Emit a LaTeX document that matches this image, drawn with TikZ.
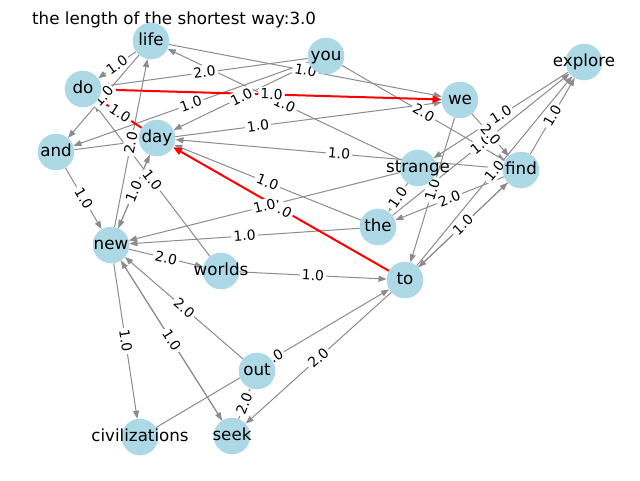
\documentclass[tikz,border=0pt]{standalone}
\usepackage{fontspec}
\setmainfont{DejaVu Sans}
\usetikzlibrary{arrows.meta}
\pgfdeclarelayer{bglayer}
\pgfdeclarelayer{edgelayer}
\pgfdeclarelayer{hotlayer}
\pgfdeclarelayer{labellayer}
\pgfdeclarelayer{textlayer}
\pgfsetlayers{bglayer,edgelayer,hotlayer,labellayer,main,textlayer}
\definecolor{nodeblue}{RGB}{173,216,230}
\definecolor{edgegray}{RGB}{140,140,140}
\tikzset{
  vtx/.style={circle, fill=nodeblue, minimum size=36.6pt, inner sep=0pt},
  vtxtext/.style={font=\fontsize{16.7}{18}\selectfont, inner sep=0pt, text height=12.2pt, text depth=3.9pt},
  conn/.style={draw=edgegray, line width=1pt, -{Triangle[length=8pt,width=6pt]}},
  hot/.style={draw=red, line width=2pt, -{Triangle[length=9pt,width=7pt]}},
  wlabel/.style={midway, sloped, fill=white, rounded corners=3pt, inner sep=2.2pt, font=\fontsize{13.9}{15}\selectfont, text height=10pt, text depth=0.5pt},
}
\newcommand{\gedge}[3]{%
  \begin{pgfonlayer}{edgelayer}\draw[conn] (#1) -- (#2);\end{pgfonlayer}%
  \begin{pgfonlayer}{labellayer}\path (#1) -- (#2) node[wlabel] (l-#1-#2) {#3};\end{pgfonlayer}%
}
\newcommand{\hedge}[3]{%
  \begin{pgfonlayer}{hotlayer}\draw[hot] (#1) -- (#2);\end{pgfonlayer}%
  \begin{pgfonlayer}{labellayer}\path (#1) -- (#2) node[wlabel] (l-#1-#2) {#3};\end{pgfonlayer}%
}
\begin{document}
\begin{tikzpicture}[x=1pt,y=-1pt]
\begin{pgfonlayer}{bglayer}
\fill[white] (0,0) rectangle (640,480);
\end{pgfonlayer}
\useasboundingbox (0,0) rectangle (640,480);
\node[anchor=base west, font=\fontsize{16.7}{18}\selectfont, inner sep=0pt] (title) at (32,24) {the length of the shortest way:3.0};
% nodes
\node[vtx] (vlife) at (151,41) {};
\node[vtx] (vyou) at (326,56) {};
\node[vtx] (vexplore) at (584,62) {};
\node[vtx] (vdo) at (83,89) {};
\node[vtx] (vwe) at (460,100) {};
\node[vtx] (vday) at (157,138) {};
\node[vtx] (vand) at (56,152) {};
\node[vtx] (vstrange) at (418,168) {};
\node[vtx] (vfind) at (521,170) {};
\node[vtx] (vthe) at (378,227) {};
\node[vtx] (vnew) at (111,245) {};
\node[vtx] (vworlds) at (221,271) {};
\node[vtx] (vto) at (405,280) {};
\node[vtx] (vout) at (257,371) {};
\node[vtx] (vciv) at (140,437) {};
\node[vtx] (vseek) at (232,436) {};
\begin{pgfonlayer}{textlayer}
\node[vtxtext] (t-life) at (vlife) {life};
\node[vtxtext] (t-you) at (vyou) {you};
\node[vtxtext] (t-explore) at (vexplore) {explore};
\node[vtxtext] (t-do) at (vdo) {do};
\node[vtxtext] (t-we) at (vwe) {we};
\node[vtxtext] (t-day) at (vday) {day};
\node[vtxtext] (t-and) at (vand) {and};
\node[vtxtext] (t-strange) at (vstrange) {strange};
\node[vtxtext] (t-find) at (vfind) {find};
\node[vtxtext] (t-the) at (vthe) {the};
\node[vtxtext] (t-new) at (vnew) {new};
\node[vtxtext] (t-worlds) at (vworlds) {worlds};
\node[vtxtext] (t-to) at (vto) {to};
\node[vtxtext] (t-out) at (vout) {out};
\node[vtxtext] (t-civ) at (vciv) {civilizations};
\node[vtxtext] (t-seek) at (vseek) {seek};
\end{pgfonlayer}
% edges
\gedge{vlife}{vdo}{1.0}
\gedge{vyou}{vdo}{2.0}
\gedge{vstrange}{vlife}{1.0}
\hedge{vdo}{vwe}{1.0}
\gedge{vlife}{vwe}{1.0}
\gedge{vlife}{vand}{1.0}
\gedge{vyou}{vand}{1.0}
\gedge{vyou}{vday}{1.0}
\gedge{vand}{vwe}{1.0}
\gedge{vfind}{vday}{1.0}
\gedge{vthe}{vday}{1.0}
\hedge{vto}{vday}{1.0}
\gedge{vstrange}{vnew}{1.0}
\gedge{vthe}{vnew}{1.0}
\gedge{vnew}{vworlds}{2.0}
\gedge{vworlds}{vto}{1.0}
\gedge{vworlds}{vdo}{1.0}
\gedge{vday}{vnew}{1.0}
\gedge{vnew}{vday}{1.0}
\gedge{vnew}{vlife}{2.0}
\gedge{vand}{vnew}{1.0}
\gedge{vnew}{vciv}{1.0}
\gedge{vnew}{vseek}{1.0}
\gedge{vseek}{vnew}{1.0}
\gedge{vout}{vnew}{2.0}
\gedge{vciv}{vto}{1.0}
\gedge{vto}{vseek}{2.0}
\gedge{vseek}{vout}{2.0}
\gedge{vexplore}{vstrange}{1.0}
\gedge{vthe}{vexplore}{1.0}
\gedge{vwe}{vfind}{2.0}
\gedge{vyou}{vfind}{2.0}
\gedge{vwe}{vto}{1.0}
\gedge{vstrange}{vthe}{1.0}
\gedge{vfind}{vthe}{2.0}
\gedge{vfind}{vexplore}{1.0}
\gedge{vto}{vexplore}{1.0}
\gedge{vto}{vfind}{1.0}
\gedge{vfind}{vto}{1.0}
\hedge{vday}{vdo}{1.0}
\end{tikzpicture}
\end{document}
